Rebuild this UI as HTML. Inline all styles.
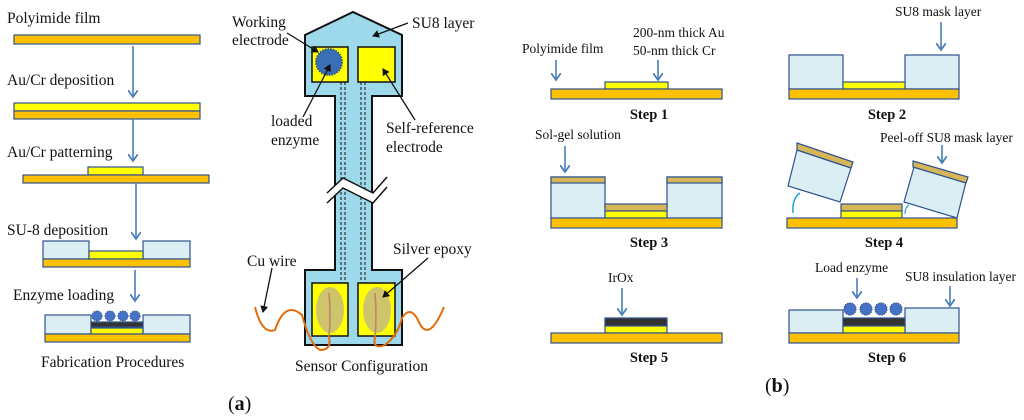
<!DOCTYPE html>
<html><head><meta charset="utf-8"><style>
html,body{margin:0;padding:0;background:#fff}
svg{display:block}
text{font-family:"Liberation Serif",serif;font-size:15.5px;fill:#111}
.r{font-size:13.5px}
</style></head><body>
<svg width="1024" height="420" viewBox="0 0 1024 420" xmlns="http://www.w3.org/2000/svg">
<defs>
<marker id="ah" markerWidth="10" markerHeight="10" refX="7" refY="5" orient="auto" markerUnits="userSpaceOnUse"><path d="M0,0 L7,5 L0,10" fill="none" stroke="#4a7ebb" stroke-width="1.8"/></marker>
<marker id="bh" markerWidth="8" markerHeight="8" refX="6" refY="4" orient="auto" markerUnits="userSpaceOnUse"><path d="M0,0 L7,4 L0,8 z" fill="#111"/></marker>
</defs>
<g stroke="#2f528f" stroke-width="1.2">
<rect x="14" y="35" width="186" height="9" fill="#FFC000"/>
<rect x="14" y="103" width="186" height="8" fill="#FFFF00"/>
<rect x="14" y="111" width="186" height="8" fill="#FFC000"/>
<rect x="88" y="167" width="55" height="8" fill="#FFFF00"/>
<rect x="23" y="175" width="186" height="8" fill="#FFC000"/>
<rect x="43" y="241" width="46" height="18" fill="#DAEEF3"/>
<rect x="143" y="241" width="47" height="18" fill="#DAEEF3"/>
<rect x="89" y="251" width="54" height="8" fill="#FFFF00"/>
<rect x="43" y="259" width="147" height="8" fill="#FFC000"/>
<rect x="45" y="315" width="46" height="19" fill="#DAEEF3"/>
<rect x="143" y="315" width="47" height="19" fill="#DAEEF3"/>
<rect x="91" y="322" width="52" height="5" fill="#333"/>
<rect x="91" y="328" width="52" height="6" fill="#FFFF00"/>
<rect x="45" y="334" width="145" height="8" fill="#FFC000"/>
</g>
<g fill="#4472C4" stroke="#2f528f" stroke-width="1" stroke-dasharray="1.5 1">
<circle cx="97" cy="316" r="5"/><circle cx="110" cy="316" r="5"/><circle cx="123" cy="316" r="5"/><circle cx="135" cy="316" r="5"/>
</g>
<g stroke="#4a7ebb" stroke-width="1.6" marker-end="url(#ah)">
<line x1="133" y1="46" x2="133" y2="97"/>
<line x1="133" y1="119" x2="133" y2="161"/>
<line x1="136" y1="183" x2="136" y2="239"/>
<line x1="135" y1="270" x2="135" y2="301"/>
</g>
<text x="7" y="23">Polyimide film</text>
<text x="7" y="85">Au/Cr deposition</text>
<text x="7" y="157">Au/Cr patterning</text>
<text x="7" y="235">SU-8 deposition</text>
<text x="13" y="300">Enzyme loading</text>
<text x="41" y="367">Fabrication Procedures</text>

<path d="M305,35 L353,12 L402,35 L402,96 L372,96 L372,270 L402,270 L402,345 L305,345 L305,270 L335,270 L335,96 L305,96 Z" fill="#9DD9EA" stroke="#111" stroke-width="2"/>
<rect x="312" y="47" width="36" height="35" fill="#FFFF00" stroke="#111" stroke-width="1.5"/>
<rect x="358" y="47" width="37" height="35" fill="#FFFF00" stroke="#111" stroke-width="1.5"/>
<circle cx="329" cy="62" r="13" fill="#3a6fb5" stroke="#2f528f" stroke-width="2" stroke-dasharray="1.5 1.2"/>
<g stroke="#111" stroke-width="1" stroke-dasharray="3 2">
<line x1="341" y1="82" x2="341" y2="283"/><line x1="345" y1="82" x2="345" y2="283"/>
<line x1="361" y1="82" x2="361" y2="283"/><line x1="365" y1="82" x2="365" y2="283"/>
</g>
<path d="M327,193 L343,178 L373,193 L387,177 L387,187 L373,203 L343,188 L327,203 Z" fill="#fff"/>
<path d="M327,193 L343,178 L373,193 L387,177 M327,203 L343,188 L373,203 L387,187" fill="none" stroke="#111" stroke-width="1.5"/>
<rect x="312" y="283" width="36" height="53" fill="#FFFF00" stroke="#111" stroke-width="1.5"/>
<rect x="358" y="283" width="37" height="53" fill="#FFFF00" stroke="#111" stroke-width="1.5"/>
<ellipse cx="330" cy="310" rx="14" ry="23" fill="#C8BE78" opacity="0.9"/>
<ellipse cx="377" cy="310" rx="14" ry="23" fill="#C8BE78" opacity="0.9"/>
<path d="M329,293 Q331,315 329,337 M375,293 Q377,315 375,337" stroke="#c08070" stroke-width="1.5" fill="none"/>
<path d="M255,307 Q262,335 275,330 Q285,300 302,315 Q310,345 320,350 Q332,350 329,337 M375,337 Q372,350 385,345 Q398,335 402,318 Q410,305 418,320 Q428,345 444,307" stroke="#E36C0A" stroke-width="2" fill="none"/>
<g stroke="#111" stroke-width="1.3" marker-end="url(#bh)" fill="none">
<line x1="287" y1="33" x2="318" y2="52"/>
<line x1="408" y1="23" x2="373" y2="36"/>
<line x1="303" y1="117" x2="330" y2="65"/>
<line x1="415" y1="120" x2="383" y2="69"/>
<line x1="272" y1="268" x2="263" y2="312"/>
<line x1="428" y1="258" x2="383" y2="297"/>
</g>
<text x="232" y="27">Working</text>
<text x="232" y="45">electrode</text>
<text x="412" y="28">SU8 layer</text>
<text x="271" y="126">loaded</text>
<text x="271" y="145">enzyme</text>
<text x="386" y="133">Self-reference</text>
<text x="386" y="152">electrode</text>
<text x="393" y="254">Silver epoxy</text>
<text x="247" y="266">Cu wire</text>
<text x="295" y="371">Sensor Configuration</text>
<text x="228" y="410" style="font-size:20px">(<tspan font-weight="bold">a</tspan>)</text>

<g stroke="#2f528f" stroke-width="1.2">
<rect x="605" y="82" width="63" height="7" fill="#FFFF00"/>
<rect x="551" y="89" width="171" height="10" fill="#FFC000"/>
<rect x="789" y="55" width="54" height="34" fill="#DAEEF3"/>
<rect x="905" y="55" width="54" height="34" fill="#DAEEF3"/>
<rect x="843" y="82" width="62" height="7" fill="#FFFF00"/>
<rect x="789" y="89" width="170" height="10" fill="#FFC000"/>
<rect x="551" y="177" width="54" height="41" fill="#DAEEF3"/>
<rect x="551" y="177" width="54" height="6" fill="#D6B656"/>
<rect x="667" y="177" width="55" height="41" fill="#DAEEF3"/>
<rect x="667" y="177" width="55" height="6" fill="#D6B656"/>
<rect x="605" y="204" width="62" height="7" fill="#D6B656"/>
<rect x="605" y="211" width="62" height="7" fill="#FFFF00"/>
<rect x="551" y="218" width="171" height="10" fill="#FFC000"/>
<polygon points="797,150 851,168 840,202 788,186" fill="#DAEEF3"/>
<polygon points="797,143 853,162 851,168 797,150" fill="#D6B656"/>
<polygon points="914,167 966,182 957,218 904,202" fill="#DAEEF3"/>
<polygon points="913,161 968,177 966,183 913,167" fill="#D6B656"/>
<rect x="841" y="204" width="61" height="7" fill="#D6B656"/>
<rect x="841" y="211" width="61" height="7" fill="#FFFF00"/>
<rect x="787" y="218" width="170" height="10" fill="#FFC000"/>
<rect x="605" y="318" width="62" height="8" fill="#333"/>
<rect x="605" y="326" width="62" height="7" fill="#FFFF00"/>
<rect x="551" y="333" width="171" height="10" fill="#FFC000"/>
<rect x="789" y="310" width="54" height="23" fill="#DAEEF3"/>
<rect x="905" y="308" width="54" height="25" fill="#DAEEF3"/>
<rect x="843" y="318" width="62" height="8" fill="#333"/>
<rect x="843" y="326" width="62" height="7" fill="#FFFF00"/>
<rect x="789" y="333" width="170" height="10" fill="#FFC000"/>
</g>
<g fill="#4472C4" stroke="#2f528f" stroke-width="1.2" stroke-dasharray="1.5 1">
<circle cx="850" cy="309" r="6"/><circle cx="866" cy="309" r="6"/><circle cx="881" cy="309" r="6"/><circle cx="896" cy="309" r="6"/>
</g>
<path d="M793,213 Q792,198 800,193" stroke="#1aa0d8" stroke-width="1.5" fill="none"/>
<path d="M905,214 Q905,207 909,205" stroke="#1aa0d8" stroke-width="1.2" fill="none"/>
<g stroke="#4a7ebb" stroke-width="1.6" marker-end="url(#ah)">
<line x1="556" y1="60" x2="556" y2="80"/>
<line x1="658" y1="60" x2="658" y2="80"/>
<line x1="941" y1="22" x2="941" y2="50"/>
<line x1="565" y1="146" x2="565" y2="172"/>
<line x1="942" y1="145" x2="942" y2="163"/>
<line x1="622" y1="288" x2="622" y2="315"/>
<line x1="857" y1="278" x2="857" y2="298"/>
<line x1="950" y1="286" x2="950" y2="306"/>
</g>
<text class="r" x="522" y="53">Polyimide film</text>
<text class="r" x="633" y="37">200-nm thick Au</text>
<text class="r" x="633" y="55">50-nm thick Cr</text>
<text class="r" x="895" y="16">SU8 mask layer</text>
<text class="r" x="535" y="139">Sol-gel solution</text>
<text class="r" x="880" y="142">Peel-off SU8 mask layer</text>
<text class="r" x="608" y="282">IrOx</text>
<text class="r" x="815" y="272">Load enzyme</text>
<text class="r" x="905" y="281">SU8 insulation layer</text>
<g text-anchor="middle">
<text x="649" y="119" style="font-weight:bold;font-size:14.5px">Step 1</text>
<text x="887" y="119" style="font-weight:bold;font-size:14.5px">Step 2</text>
<text x="649" y="247" style="font-weight:bold;font-size:14.5px">Step 3</text>
<text x="884" y="247" style="font-weight:bold;font-size:14.5px">Step 4</text>
<text x="649" y="362" style="font-weight:bold;font-size:14.5px">Step 5</text>
<text x="887" y="362" style="font-weight:bold;font-size:14.5px">Step 6</text>
</g>
<text x="765" y="392" style="font-size:20px">(<tspan font-weight="bold">b</tspan>)</text>
</svg>
</body></html>
